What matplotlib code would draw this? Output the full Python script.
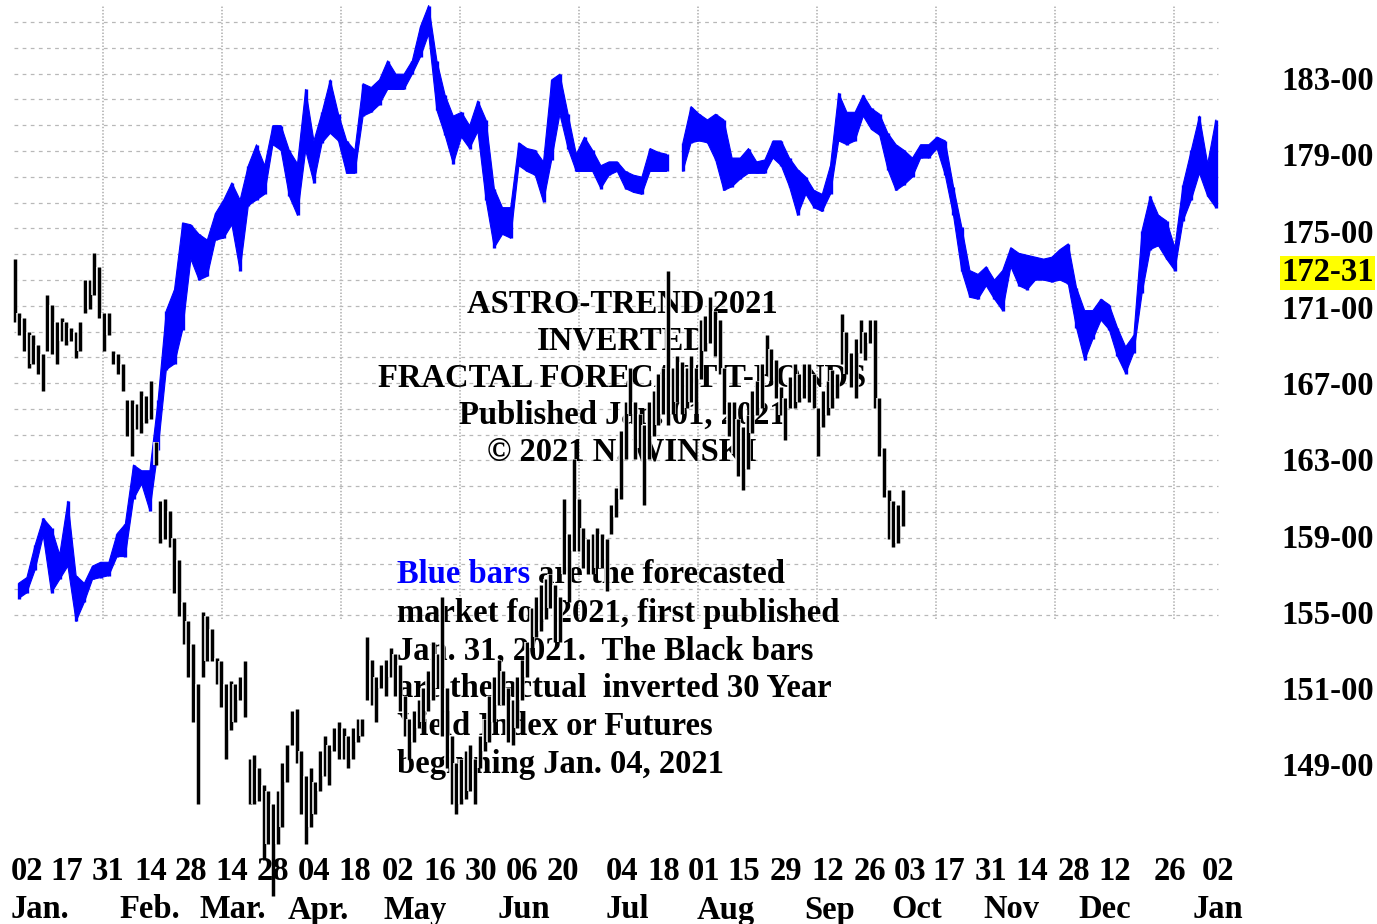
import numpy as np
import matplotlib
matplotlib.use("Agg")
import matplotlib.pyplot as plt
import matplotlib.transforms as mtransforms
import matplotlib.patheffects as pe

plt.rcParams['font.family'] = ['Liberation Serif', 'DejaVu Serif']
plt.rcParams['font.weight'] = 'bold'

# Forecast path (blue bars): high / low of each forecast step, Jan 2021 -> Jan 2022
blue_hi = [156.5, 156.8, 158.5, 159.9, 159.4, 158.0, 160.8, 156.9, 156.5, 157.4,
           157.6, 157.6, 159.1, 159.6, 162.7, 162.4, 162.4, 166.1, 170.8, 171.9,
           175.4, 175.3, 174.8, 174.5, 175.9, 176.6, 177.5, 176.6, 178.4, 179.5,
           178.4, 180.5, 180.5, 179.2, 178.5, 182.4, 179.7, 181.2, 182.9, 181.1,
           179.7, 179.2, 182.7, 182.5, 182.9, 183.9, 183.2, 183.2, 183.9, 185.7,
           186.8, 183.9, 182.1, 181.0, 181.2, 180.5, 181.8, 180.8, 177.2, 176.2,
           176.2, 179.6, 179.3, 179.2, 178.6, 182.9, 183.2, 181.1, 179.0, 179.9,
           179.2, 178.4, 178.6, 178.6, 178.1, 177.9, 177.8, 179.3, 179.1, 179.0,
           np.nan, 179.6, 181.5, 181.1, 180.8, 181.1, 180.8, 178.8, 178.8, 179.3,
           178.6, 178.7, 179.7, 179.7, 178.8, 178.2, 177.8, 177.1, 176.9, 178.4,
           182.2, 181.2, 181.2, 182.1, 181.4, 181.1, 180.1, 179.5, 179.2, 178.8,
           179.5, 179.5, 179.9, 179.7, 177.3, 175.2, 172.9, 172.7, 173.1, 172.4,
           172.9, 174.1, 173.8, 173.7, 173.6, 173.5, 173.6, 174.0, 174.3, 172.0,
           170.8, 170.8, 171.4, 171.1, 169.9, 168.9, 169.5, 175.0, 176.8, 175.8,
           175.5, 174.1, 177.4, 179.2, 181.0, 178.5, 180.8]
blue_lo = [155.7, 156.0, 157.2, 159.0, 156.0, 156.7, 157.4, 154.5, 155.5, 156.7,
           156.8, 156.9, 157.9, 157.9, 160.9, 161.7, 160.3, 163.5, 167.7, 168.0,
           169.8, 173.5, 172.4, 172.6, 174.5, 174.6, 175.3, 172.9, 176.3, 176.6,
           176.9, 179.5, 179.2, 176.8, 175.8, 179.2, 177.5, 179.6, 180.1, 179.7,
           178.0, 178.0, 181.0, 181.2, 181.6, 182.4, 182.4, 182.4, 183.2, 184.1,
           185.3, 181.3, 180.0, 178.5, 179.9, 179.3, 180.2, 176.6, 174.1, 174.8,
           174.6, 178.4, 178.1, 177.9, 176.5, 178.7, 181.1, 179.3, 178.1, 178.1,
           178.1, 177.2, 177.9, 178.1, 177.2, 177.0, 176.9, 178.1, 178.1, 178.1,
           np.nan, 178.1, 179.6, 179.7, 179.6, 178.7, 177.1, 177.3, 177.7, 178.0,
           178.0, 178.0, 178.8, 178.4, 177.3, 175.8, 176.9, 176.2, 176.0, 176.9,
           179.7, 179.5, 179.7, 181.0, 180.3, 180.0, 178.2, 177.1, 177.4, 177.8,
           178.8, 178.8, 179.3, 177.9, 175.8, 172.9, 171.5, 171.4, 172.1, 171.4,
           170.8, 173.1, 172.1, 171.9, 172.4, 172.4, 172.3, 172.4, 172.2, 169.9,
           168.2, 169.3, 170.3, 169.8, 168.4, 167.5, 168.6, 171.7, 174.0, 174.2,
           173.5, 172.9, 175.5, 176.6, 178.0, 176.8, 176.2]

# Actual market (black bars): daily high / low from Jan 04, 2021
black_hi = [173.5, 170.7, 170.4, 169.7, 169.5, 169.0, 168.5, 171.6, 171.1, 170.2,
            170.4, 170.2, 169.9, 169.7, 170.2, 172.4, 172.4, 173.8, 173.1, 170.7,
            170.7, 168.7, 168.5, 168.0, 166.1, 166.1, 165.9, 166.6, 166.3, 167.1,
            163.9, 160.8, 160.9, 160.3, 158.9, 157.7, 155.5, 154.5, 153.3, 151.2,
            155.0, 154.8, 154.1, 152.6, 152.4, 151.2, 151.4, 151.2, 151.6, 152.4,
            147.3, 147.5, 146.8, 145.9, 145.6, 144.9, 145.6, 147.1, 148.0, 149.8,
            149.9, 147.7, 146.4, 146.8, 146.1, 147.7, 148.5, 148.0, 148.9, 149.2,
            148.9, 148.5, 148.9, 149.4, 149.4, 153.7, 152.5, 151.6, 152.2, 152.5,
            153.1, 152.8, 152.2, 150.6, 149.4, 149.8, 150.4, 151.0, 151.9, 153.4,
            152.8, 155.8, 151.0, 148.5, 147.1, 147.3, 147.7, 148.0, 147.3, 148.5,
            149.4, 150.6, 151.6, 152.5, 151.9, 151.0, 150.4, 151.6, 152.5, 153.4,
            155.2, 155.8, 156.4, 156.7, 157.0, 156.4, 155.8, 160.9, 159.1, 163.0,
            160.9, 159.4, 158.8, 159.1, 159.4, 159.1, 158.8, 160.6, 161.5, 164.5,
            166.0, 167.8, 166.0, 165.4, 164.8, 166.0, 166.6, 167.5, 167.8, 172.9,
            167.8, 168.4, 168.1, 167.8, 168.4, 167.8, 170.3, 170.5, 171.5, 170.8,
            170.3, 167.8, 166.0, 166.0, 165.1, 164.7, 165.3, 166.6, 167.1, 168.0,
            169.5, 168.8, 168.2, 166.8, 166.2, 167.3, 168.0, 167.5, 168.0, 168.0,
            167.5, 165.7, 166.6, 167.1, 167.7, 167.5, 170.6, 169.7, 168.6, 169.3,
            170.3, 169.7, 170.3, 170.3, 166.2, 163.6, 161.4, 160.8, 160.6, 161.4]
black_lo = [170.2, 169.5, 168.7, 167.8, 168.0, 167.5, 166.6, 168.7, 168.5, 168.0,
            169.2, 169.0, 169.2, 168.3, 168.7, 170.7, 170.9, 171.6, 170.4, 168.7,
            169.5, 168.0, 167.5, 166.6, 164.2, 163.2, 164.6, 164.4, 164.9, 165.1,
            162.7, 158.6, 158.8, 158.4, 156.0, 154.8, 153.3, 151.6, 149.2, 144.9,
            151.6, 152.4, 152.4, 151.2, 150.0, 147.3, 148.8, 149.2, 150.4, 149.5,
            144.9, 144.9, 145.1, 142.0, 142.8, 140.1, 142.8, 143.7, 146.1, 148.0,
            147.1, 144.4, 142.8, 143.7, 144.4, 145.6, 146.4, 145.9, 147.7, 147.3,
            147.3, 146.8, 147.3, 148.2, 148.5, 150.4, 150.1, 149.2, 151.0, 150.6,
            151.6, 150.6, 149.8, 148.5, 147.3, 148.2, 148.9, 149.2, 149.8, 150.4,
            151.0, 148.5, 146.8, 144.9, 144.4, 144.9, 145.2, 145.6, 144.9, 146.8,
            147.7, 148.2, 149.2, 150.1, 150.1, 148.2, 148.0, 148.9, 150.4, 151.6,
            153.1, 153.7, 154.0, 154.6, 155.2, 153.4, 153.4, 157.0, 155.5, 158.2,
            158.2, 157.3, 157.0, 157.0, 157.3, 157.3, 156.1, 159.1, 160.0, 160.9,
            163.0, 165.4, 163.0, 163.6, 160.6, 163.0, 164.2, 164.8, 165.4, 164.8,
            165.4, 166.0, 165.4, 165.7, 166.0, 165.4, 167.2, 168.7, 169.1, 168.4,
            167.5, 165.4, 164.2, 163.3, 162.1, 161.4, 162.5, 164.4, 165.3, 165.7,
            167.5, 167.1, 166.2, 165.3, 164.0, 165.7, 165.7, 166.0, 166.2, 166.0,
            165.7, 163.2, 164.7, 165.3, 165.7, 166.2, 168.0, 167.5, 166.8, 166.2,
            168.6, 168.2, 169.1, 165.7, 163.2, 161.0, 158.8, 158.4, 158.6, 159.5]

# Forecast runs from session 0.9 to session 255.6 of the trading calendar
forecast_start, forecast_end = 0.9, 255.6

# Date axis (sessions from Jan 04, 2021)
day_labels = ["02", "17", "31", "14", "28", "14", "28", "04", "18", "02", "16", "30",
              "06", "20", "04", "18", "01", "15", "29", "12", "26", "03", "17", "31",
              "14", "28", "12", "26", "02"]
day_pos = [2.7, 11.2, 19.9, 29.0, 37.6, 46.3, 55.0, 63.7, 72.4, 81.6, 90.5, 99.3,
           108.0, 116.7, 129.3, 138.2, 146.7, 155.2, 164.1, 173.1, 181.9, 190.5,
           198.8, 207.7, 216.4, 225.3, 234.0, 245.8, 256.0]
month_labels = ["Jan.", "Feb.", "Mar.", "Apr.", "May", "Jun", "Jul", "Aug", "Sep",
                "Oct", "Nov", "Dec", "Jan"]
month_pos = [5.4, 28.8, 46.5, 64.6, 85.2, 108.4, 130.3, 151.4, 173.5, 192.0,
             212.0, 232.0, 256.0]

# Price scale (32nds notation)
price_ticks = [183, 179, 175, 172 + 31 / 32, 171, 167, 163, 159, 155, 151, 147.03]
price_labels = ["183-00", "179-00", "175-00", "172-31", "171-00", "167-00",
                "163-00", "159-00", "155-00", "151-00", "149-00"]

title_lines = ["ASTRO-TREND 2021", "INVERTED", "FRACTAL FORECAST T-BONDS",
               "Published Jan. 01, 2021", "\u00a9 2021 N. WINSKI"]
note_lines = ["market for 2021, first published", "Jan. 31, 2021.  The Black bars",
              "are the actual  inverted 30 Year", "Yield Index or Futures",
              "beginning Jan. 04, 2021"]

BLUE = "#0000ff"
GRID = "#b8b8b8"
FS = 23.5

fig = plt.figure(figsize=(13.77, 9.24), dpi=100)
ax = fig.add_axes([0, 0, 1222 / 1377, 1])
ax.set_xlim(-3.085, 256.9)
ax.set_ylim(138.63, 187.09)
for sp in ax.spines.values():
    sp.set_visible(False)
ax.tick_params(axis="x", bottom=False, labelbottom=False)
ax.yaxis.tick_right()
ax.set_yticks(price_ticks, price_labels)
ax.tick_params(axis="y", length=0, pad=42.5, labelsize=FS)
ax.get_yticklabels()[3].set_bbox(dict(facecolor="#ffff00", edgecolor="none", pad=1.0))

# Grid: dashed horizontals, fine dotted verticals
grid_y = 185.94 - 1.353 * np.arange(24)
ax.hlines(grid_y, -0.1, 256.1, colors=GRID, linestyles=(0, (3, 3.5)), lw=0.9, zorder=0)
vgrid_x = 18.83 + 25.32 * np.arange(10)
ax.vlines(vgrid_x, 154.6, 186.8, colors=GRID, linestyles=(0, (0.8, 1.0)), lw=1.3, zorder=0)

# Headline block
tx = 129.3
for line, base in zip(title_lines, [170.68, 168.74, 166.80, 164.86, 162.92]):
    ax.text(tx, base, line, ha="center", va="baseline", fontsize=FS, zorder=1)

# Explanatory note
nx = 81.38
t1 = ax.text(nx, 156.52, "Blue bars", color=BLUE, ha="left", va="baseline",
             fontsize=FS, zorder=1)
ax.annotate(" are the forecasted", xy=(1, 0), xycoords=t1, ha="left", va="bottom",
            fontsize=FS, zorder=1)
for line, base in zip(note_lines, [154.47, 152.48, 150.54, 148.55, 146.55]):
    ax.text(nx, base, line, ha="left", va="baseline", fontsize=FS, zorder=1)

# Forecast bars: high-low bars with the range between them shaded
bx = np.linspace(forecast_start, forecast_end, len(blue_hi))
bhi = np.array(blue_hi)
blo = np.array(blue_lo)
ax.fill_between(bx, blo, bhi, color=BLUE, lw=0.8, zorder=3)
ax.vlines(bx, blo, bhi, colors=BLUE, lw=2.4, zorder=3)

# Actual bars
kx = np.arange(len(black_hi))
ax.vlines(kx, black_lo, black_hi, colors="black", lw=2.5, zorder=4,
          path_effects=[pe.withStroke(linewidth=4.0, foreground="white")])

# Date labels
trans = mtransforms.blended_transform_factory(ax.transData, ax.transAxes)
for lab, pos in zip(day_labels, day_pos):
    ax.text(pos, 1 - 872 / 924, lab, transform=trans, ha="center", va="center",
            fontsize=FS, zorder=5)
for lab, pos in zip(month_labels, month_pos):
    ax.text(pos, 1 - 910 / 924, lab, transform=trans, ha="center", va="center",
            fontsize=FS, zorder=5)

fig.savefig("out.png", dpi=100, facecolor="white")
